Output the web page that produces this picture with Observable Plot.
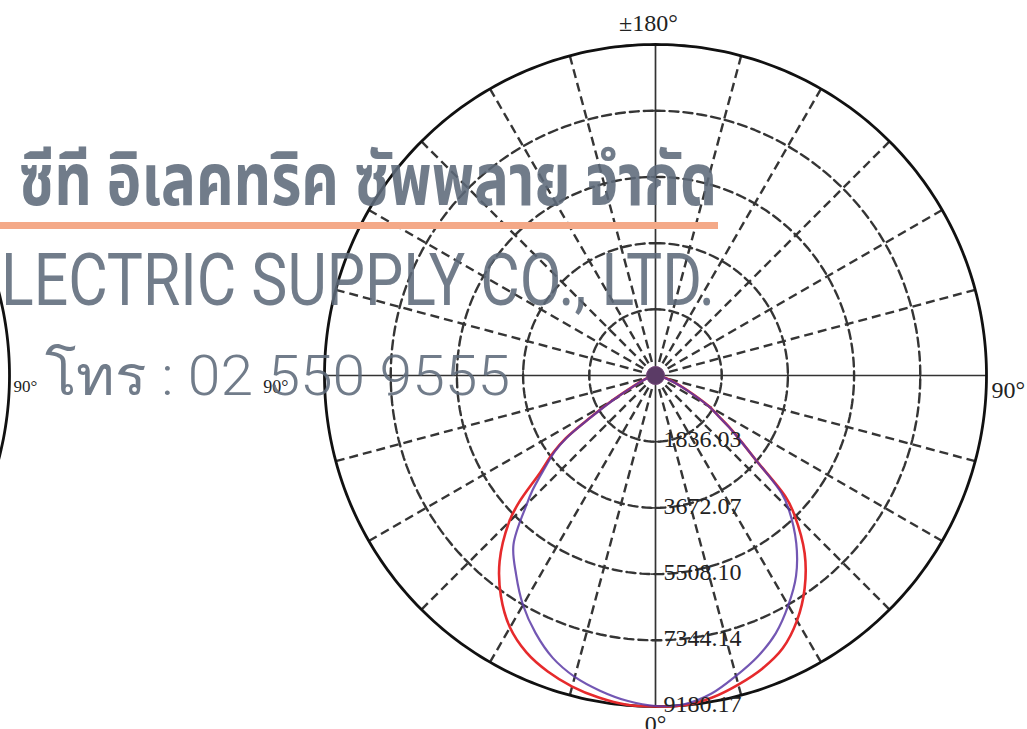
<!DOCTYPE html>
<html><head><meta charset="utf-8">
<script src="https://cdn.jsdelivr.net/npm/d3@7"></script>
<script src="https://cdn.jsdelivr.net/npm/@observablehq/plot@0.6"></script>
<style>html,body{margin:0;padding:0;background:#fff;overflow:hidden}svg{display:block}</style>
</head><body><div id="chart"></div>
<script>
// ---- data (candela) ----
const gammaAngles = [0,5,10,15,20,25,30,35,40,45,47,50,53,55,57,60,65,70,80,90];
const redLeft     = [9180,9166,9069,8931,8737,8473,8071,7475,6726,5741,5200,4160,3550,3051,2219,1387,610,333,111,0];
const redRight    = [9180,9180,9069,8875,8653,8348,7849,7211,6435,5436,4937,3606,2884,2496,2108,1720,971,555,139,0];
const purpleLeft  = [9166,9055,8875,8653,8334,7877,7350,6740,6129,5048,4660,4022,3495,2995,2163,1331,582,305,111,0];
const purpleRight = [9180,9153,8958,8626,8293,7891,7364,6795,6074,5214,4770,3606,2857,2468,2108,1692,943,527,139,0];
const ringValues  = [1836.03, 3672.07, 5508.10, 7344.14, 9180.17];
const spokeAngles = d3.range(0, 360, 15);
const angleLabels = ["±180°", "0°", "90°", "90°"];
const neighborLabel = "90°";
const wmThai = "ซีที อิเลคทริค ซัพพลาย จำกัด";
const wmEng = "LECTRIC SUPPLY CO., LTD.";
const wmTel = "โทร : 02 550 9555";

// ---- layout ----
const W = 1027, H = 729, CX = 655, CY = 375, RPX = 331;
const R = ringValues[ringValues.length - 1];
const K = R / RPX; // candela per pixel
const rad = d => d * Math.PI / 180;

function half(vals, side, series) {
  return gammaAngles.map((a, i) => ({series, x: side * vals[i] * Math.sin(rad(a)), y: -vals[i] * Math.cos(rad(a))}));
}
function curve(left, right, series) {
  const l = half(left, -1, series).reverse();
  const r = half(right, 1, series).slice(1);
  return l.concat(r);
}
const redCurve = curve(redLeft, redRight, "C0-C180");
const purpleCurve = curve(purpleLeft, purpleRight, "C90-C270");

const ringPts = ringValues.slice(0, 4).flatMap((v, k) => d3.range(0, 361, 2).map(a => ({k, x: v * Math.sin(rad(a)), y: v * Math.cos(rad(a))})));
const outerPts = d3.range(0, 361, 1).map(a => ({x: R * Math.sin(rad(a)), y: R * Math.cos(rad(a))}));
const spokes = spokeAngles.filter(a => a % 90 !== 0).map(a => ({x2: R * Math.sin(rad(a)), y2: R * Math.cos(rad(a))}));
const t = 5 * K;
const ticks = ringValues.slice(0, 4).flatMap(v => [
  {x1: v, y1: -t, x2: v, y2: t}, {x1: -v, y1: -t, x2: -v, y2: t},
  {x1: -t, y1: -v, x2: t, y2: -v}, {x1: -t, y1: v, x2: t, y2: v}
]);
const ncx = -977 * K;
const neighborArc = d3.range(-30, 31, 1).map(a => ({x: ncx + R * Math.cos(rad(a)), y: R * Math.sin(rad(a))}));

const grid = "#353535";
const serif = "'Liberation Serif','Times New Roman',serif";

const plot = Plot.plot({
  width: W, height: H,
  marginTop: 0, marginRight: 0, marginBottom: 0, marginLeft: 0,
  x: {domain: [-CX * K, (W - CX) * K], axis: null},
  y: {domain: [-(H - CY) * K, CY * K], axis: null},
  style: {background: "#fff"},
  marks: [
    Plot.line(ringPts, {x: "x", y: "y", z: "k", stroke: grid, strokeWidth: 2.4, strokeDasharray: "9,5"}),
    Plot.link(spokes, {x1: () => 0, y1: () => 0, x2: "x2", y2: "y2", stroke: grid, strokeWidth: 2.4, strokeDasharray: "9,5"}),
    Plot.link([{x1: -R, y1: 0, x2: R, y2: 0}, {x1: 0, y1: -R, x2: 0, y2: R}], {x1: "x1", y1: "y1", x2: "x2", y2: "y2", stroke: "#333", strokeWidth: 1.7}),
    Plot.link(ticks, {x1: "x1", y1: "y1", x2: "x2", y2: "y2", stroke: "#333", strokeWidth: 1.6}),
    Plot.line(outerPts, {x: "x", y: "y", stroke: "#111", strokeWidth: 2.8}),
    Plot.line(neighborArc, {x: "x", y: "y", stroke: "#111", strokeWidth: 2.8}),
    Plot.line(redCurve, {x: "x", y: "y", stroke: "#e62a2c", strokeWidth: 2.6, curve: "catmull-rom"}),
    Plot.line(purpleCurve, {x: "x", y: "y", stroke: "#5a3aa6", strokeWidth: 2.2, strokeOpacity: 0.85, curve: "catmull-rom"}),
    Plot.dot([0], {x: () => 0, y: () => 0, r: 9, fill: "#5b3b66", stroke: "#7a4a80", strokeWidth: 1}),
    Plot.text(ringValues, {x: () => 0, y: d => -d, text: d => d.toFixed(2), dx: 8, dy: -2, textAnchor: "start", fontSize: 24, fontFamily: serif, fill: "#222"}),
    Plot.text([angleLabels[0]], {x: () => 0, y: () => R, dy: -21, dx: -7, fontSize: 24, fontFamily: serif, fill: "#222"}),
    Plot.text([angleLabels[1]], {x: () => 0, y: () => -R, dy: 18, fontSize: 24, fontFamily: serif, fill: "#222"}),
    Plot.text([angleLabels[2]], {x: () => R, y: () => 0, dx: 5, dy: 15, textAnchor: "start", fontSize: 24, fontFamily: serif, fill: "#222"}),
    Plot.text([angleLabels[3]], {x: () => -R, y: () => 0, dx: -36, dy: 12, textAnchor: "end", fontSize: 18, fontFamily: serif, fill: "#222"}),
    Plot.text([neighborLabel], {frameAnchor: "left", dx: 13, dy: 22, textAnchor: "start", fontSize: 17, fontFamily: serif, fill: "#222"})
  ]
});
document.getElementById("chart").appendChild(plot);

// watermark overlay
const svg = d3.select(plot);
const wm = svg.append("g").attr("fill", "#5d6a7a").attr("fill-opacity", 0.88).attr("text-anchor", "start");
wm.append("text").text(wmThai).attr("x", 19).attr("y", 205)
  .attr("font-family", "'Noto Sans Thai','Noto Sans','DejaVu Sans',sans-serif").attr("font-weight", 700).attr("font-size", 72)
  .attr("textLength", 698).attr("lengthAdjust", "spacingAndGlyphs");
svg.append("line").attr("x1", 0).attr("x2", 718).attr("y1", 225.5).attr("y2", 225.5)
  .attr("stroke", "#f4a988").attr("stroke-width", 7);
wm.append("text").text(wmEng).attr("x", 1).attr("y", 305)
  .attr("font-family", "Roboto,'Noto Sans',sans-serif").attr("font-weight", 400).attr("font-size", 73)
  .attr("textLength", 714).attr("lengthAdjust", "spacingAndGlyphs");
wm.append("text").text(wmTel).attr("x", 45).attr("y", 395)
  .attr("font-family", "Roboto,'Noto Sans',sans-serif").attr("font-weight", 300).attr("font-size", 56)
  .attr("textLength", 465).attr("lengthAdjust", "spacingAndGlyphs");
</script></body></html>
